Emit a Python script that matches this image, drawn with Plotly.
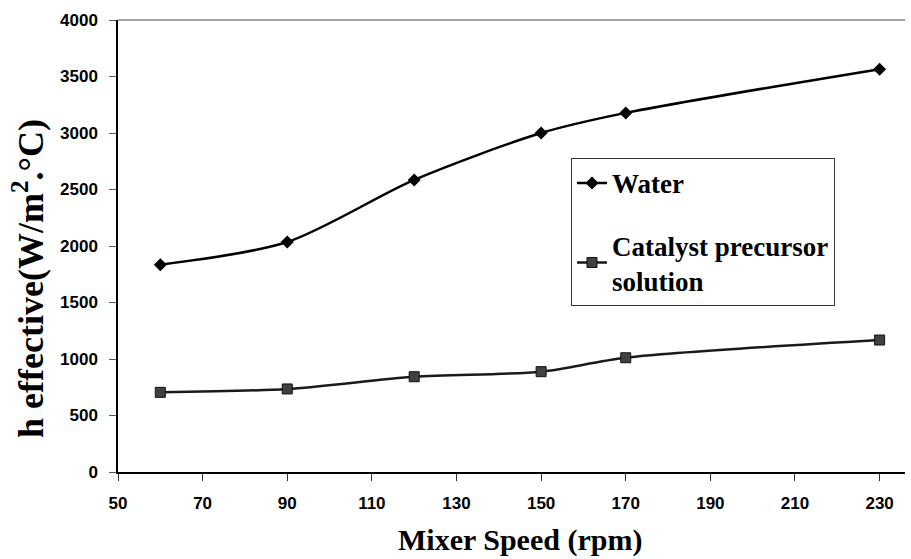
import plotly.graph_objects as go

speed = [60, 90, 120, 150, 170, 230]
water = [1835, 2035, 2585, 3000, 3178, 3565]
catalyst = [705, 735, 843, 888, 1011, 1168]

x_ticks = [50, 70, 90, 110, 130, 150, 170, 190, 210, 230]
y_ticks = [0, 500, 1000, 1500, 2000, 2500, 3000, 3500, 4000]

fig = go.Figure()
fig.add_trace(go.Scatter(
    x=speed, y=water, name="Water", mode="lines+markers", legendgroup="a",
    line=dict(color="black", width=2.5, shape="spline", smoothing=0.8),
    marker=dict(symbol="diamond", size=10, color="black"),
))
fig.add_trace(go.Scatter(
    x=speed, y=catalyst, name="Catalyst precursor<br>solution", mode="lines+markers",
    legendgroup="b",
    line=dict(color="#1a1a1a", width=2.5, shape="spline", smoothing=0.8),
    marker=dict(symbol="square", size=10, color="#404040", line=dict(color="#111", width=1)),
))

axis_font = dict(family="Liberation Sans, Arial", size=17, color="black", weight="bold")
serif = "Liberation Serif, Times New Roman"
fig.update_layout(
    width=911, height=559,
    margin=dict(l=118, r=6, t=20, b=87),
    paper_bgcolor="white", plot_bgcolor="white",
    showlegend=True,
    legend=dict(
        x=0.5756, y=0.695, xanchor="left", yanchor="top",
        bordercolor="#333", borderwidth=1, bgcolor="white",
        font=dict(family=serif, size=27, color="black", weight="bold"),
        tracegroupgap=24, itemwidth=30, traceorder="grouped",
    ),
    xaxis=dict(
        range=[50, 236], tickvals=x_ticks,
        showgrid=False, zeroline=False, showline=True, linecolor="black", linewidth=1.5,
        ticks="outside", ticklen=7, tickcolor="#333", tickfont=axis_font,
        ticklabelstandoff=8,
    ),
    yaxis=dict(
        range=[0, 4000], tickvals=y_ticks,
        showgrid=False, zeroline=False, showline=True, linecolor="black", linewidth=1.5,
        ticks="outside", ticklen=7, tickcolor="#555", tickfont=axis_font,
        ticklabelstandoff=8,
    ),
)
fig.add_annotation(text="Mixer Speed (rpm)", xref="paper", yref="paper",
                   x=(520 - 118) / 787, y=(472 - 540) / 452, xanchor="center", yanchor="middle",
                   showarrow=False,
                   font=dict(family=serif, size=30, color="black", weight="bold"))
fig.add_annotation(text="h effective(W/m<sup>2</sup>.°C)", xref="paper", yref="paper",
                   x=(28 - 118) / 787, y=(472 - 279) / 452, xanchor="center", yanchor="middle",
                   textangle=-90, showarrow=False,
                   font=dict(family=serif, size=36, color="black", weight="bold"))
fig.add_shape(type="line", xref="paper", yref="paper", x0=0, x1=1, y0=1, y1=1,
              line=dict(color="#888", width=1.5))

fig.write_html("out.html")
